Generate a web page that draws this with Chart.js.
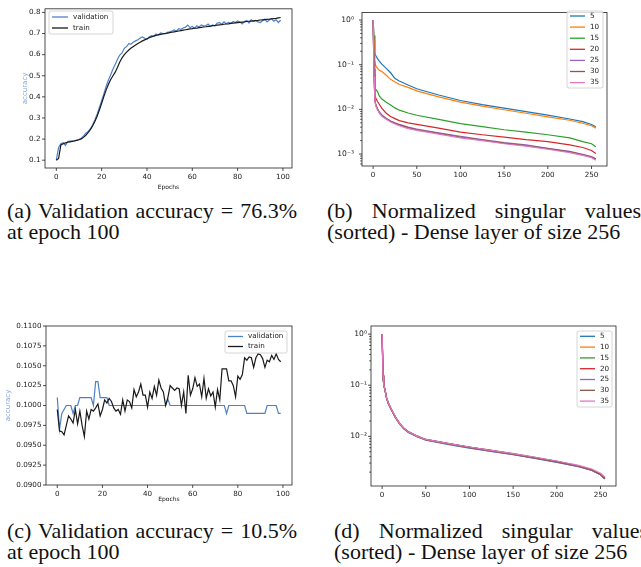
<!DOCTYPE html>
<html lang="en">
<head>
<meta charset="UTF-8">
<title>Accuracy and singular values</title>
<script src="https://cdn.jsdelivr.net/npm/chart.js"></script>
<style>
    body {
        margin: 0;
        width: 641px;
        height: 567px;
        overflow: hidden;
        background: #fff;
        position: relative;
    }
    canvas { position: absolute; }
    .cap {
        position: absolute;
        font-family: 'Liberation Serif', 'Times New Roman', serif;
        font-size: 22px;
        line-height: 22px;
        color: #111;
        white-space: nowrap;
    }
    .just {
        white-space: normal;
        text-align: justify;
        text-align-last: justify;
    }
</style>
</head>
<body>
<canvas id="chartA" width="320" height="195" style="left:0;top:0"></canvas>
<canvas id="chartB" width="321" height="195" style="left:320px;top:0"></canvas>
<canvas id="chartC" width="320" height="190" style="left:0;top:315px"></canvas>
<canvas id="chartD" width="321" height="190" style="left:320px;top:315px"></canvas>

<div class="cap just" style="left:7px;top:200px;width:290px">(a) Validation accuracy = 76.3%</div>
<div class="cap" style="left:7px;top:221px">at epoch 100</div>
<div class="cap just" style="left:327px;top:200px;width:314px">(b) Normalized singular values</div>
<div class="cap" style="left:327px;top:221px">(sorted) - Dense layer of size 256</div>
<div class="cap just" style="left:7px;top:520px;width:290px">(c) Validation accuracy = 10.5%</div>
<div class="cap" style="left:7px;top:541px">at epoch 100</div>
<div class="cap just" style="left:334px;top:520px;width:314px">(d) Normalized singular values</div>
<div class="cap" style="left:334px;top:541px">(sorted) - Dense layer of size 256</div>

<script>
// (a) accuracy per epoch, run that learns
const accValA = [0.100, 0.160, 0.178, 0.183, 0.170, 0.188, 0.190, 0.190, 0.193, 0.195,
    0.198, 0.204, 0.215, 0.228, 0.236, 0.248, 0.268, 0.290, 0.318, 0.350,
    0.382, 0.415, 0.450, 0.480, 0.505, 0.532, 0.555, 0.578, 0.598, 0.608,
    0.630, 0.638, 0.652, 0.650, 0.660, 0.665, 0.670, 0.679, 0.684, 0.678,
    0.672, 0.685, 0.690, 0.687, 0.698, 0.693, 0.703, 0.700, 0.698, 0.706,
    0.708, 0.711, 0.717, 0.711, 0.723, 0.720, 0.726, 0.730, 0.740, 0.728,
    0.733, 0.724, 0.737, 0.731, 0.740, 0.735, 0.738, 0.745, 0.733, 0.741,
    0.736, 0.750, 0.752, 0.744, 0.755, 0.746, 0.753, 0.748, 0.757, 0.752,
    0.760, 0.755, 0.746, 0.757, 0.762, 0.750, 0.765, 0.758, 0.762, 0.755,
    0.752, 0.760, 0.768, 0.755, 0.764, 0.770, 0.758, 0.765, 0.752, 0.763];
const accTrainA = [0.100, 0.108, 0.172, 0.178, 0.182, 0.185, 0.187, 0.189, 0.191, 0.194,
    0.197, 0.201, 0.208, 0.218, 0.230, 0.245, 0.262, 0.283, 0.308, 0.338,
    0.370, 0.403, 0.433, 0.460, 0.482, 0.500, 0.517, 0.540, 0.565, 0.585,
    0.600, 0.612, 0.622, 0.631, 0.639, 0.646, 0.653, 0.659, 0.665, 0.670,
    0.675, 0.680, 0.684, 0.688, 0.691, 0.694, 0.696, 0.698, 0.700, 0.702,
    0.704, 0.706, 0.708, 0.710, 0.712, 0.714, 0.716, 0.718, 0.720, 0.722,
    0.723, 0.725, 0.726, 0.728, 0.729, 0.731, 0.732, 0.734, 0.735, 0.737,
    0.738, 0.740, 0.741, 0.742, 0.744, 0.745, 0.746, 0.748, 0.749, 0.750,
    0.752, 0.753, 0.754, 0.755, 0.757, 0.758, 0.759, 0.760, 0.761, 0.762,
    0.764, 0.765, 0.766, 0.767, 0.768, 0.770, 0.771, 0.772, 0.774, 0.776];

// (c) accuracy per epoch, run that stays at chance
const accValC = [0.1010, 0.0970, 0.0990, 0.0995, 0.1000, 0.1000, 0.1000, 0.0990, 0.1000, 0.1000,
    0.1010, 0.1010, 0.1010, 0.1010, 0.1010, 0.1010, 0.1000, 0.1030, 0.1030, 0.1010,
    0.1010, 0.1010, 0.1010, 0.1000, 0.1000, 0.1000, 0.1000, 0.1000, 0.1000, 0.1000,
    0.1000, 0.1000, 0.1000, 0.1000, 0.1000, 0.1000, 0.1000, 0.1000, 0.1000, 0.1000,
    0.1000, 0.1000, 0.1000, 0.1000, 0.1000, 0.1000, 0.1000, 0.1000, 0.1000, 0.1008,
    0.1000, 0.1000, 0.1000, 0.1000, 0.1000, 0.1000, 0.1000, 0.1000, 0.1000, 0.1000,
    0.1000, 0.1000, 0.1000, 0.1000, 0.1000, 0.1000, 0.1000, 0.1000, 0.1000, 0.1000,
    0.1000, 0.1000, 0.1000, 0.1000, 0.1000, 0.0990, 0.1000, 0.1000, 0.1000, 0.1000,
    0.1000, 0.1000, 0.1000, 0.1000, 0.0990, 0.0990, 0.0990, 0.0990, 0.0990, 0.0990,
    0.0990, 0.0990, 0.0990, 0.1000, 0.1000, 0.1000, 0.1000, 0.1000, 0.0990, 0.0990];
const accTrainC = [0.0995, 0.0968, 0.0967, 0.0963, 0.0975, 0.0987, 0.0983, 0.0978, 0.0995, 0.0977,
    0.0993, 0.0975, 0.0961, 0.0993, 0.0983, 0.0995, 0.0993, 0.0997, 0.1002, 0.0987,
    0.0995, 0.1007, 0.1003, 0.1009, 0.1005, 0.0997, 0.0993, 0.0995, 0.0989, 0.1007,
    0.0993, 0.1007, 0.1005, 0.0997, 0.1020, 0.1011, 0.1017, 0.1027, 0.1013, 0.1013,
    0.0998, 0.1017, 0.1009, 0.1024, 0.1013, 0.1032, 0.1022, 0.1017, 0.1000, 0.1010,
    0.1025, 0.1022, 0.1019, 0.1022, 0.1021, 0.1000, 0.1017, 0.0990, 0.1038, 0.1013,
    0.1021, 0.1035, 0.1024, 0.1027, 0.1011, 0.1034, 0.1009, 0.1021, 0.1012, 0.1017,
    0.0998, 0.1020, 0.1007, 0.1046, 0.1046, 0.1046, 0.1031, 0.1031, 0.1025, 0.1011,
    0.1037, 0.1033, 0.1039, 0.1060, 0.1057, 0.1061, 0.1060, 0.1048, 0.1060, 0.1065,
    0.1064, 0.1059, 0.1048, 0.1057, 0.1055, 0.1063, 0.1058, 0.1065, 0.1058, 0.1055];

const svIndex = [0, 1, 2, 3, 5, 7, 10, 15, 20, 25, 30, 40, 50, 75, 100, 125, 150, 175, 200, 225, 240, 250, 255];
const svLabels = ['5', '10', '15', '20', '25', '30', '35'];
const svColors = ['#1f77b4', '#ff7f0e', '#2ca02c', '#d62728', '#9467bd', '#8c564b', '#e377c2'];

// (b) normalized singular values
const svB5  = [1.0, 0.45, 0.18, 0.16, 0.137, 0.12, 0.103, 0.083, 0.066, 0.049, 0.043, 0.035, 0.029, 0.021, 0.0158, 0.0128, 0.0107, 0.0089, 0.0074, 0.0061, 0.0053, 0.0046, 0.0041];
const svB10 = [1.0, 0.35, 0.11, 0.095, 0.083, 0.075, 0.07, 0.058, 0.047, 0.041, 0.036, 0.031, 0.026, 0.019, 0.0145, 0.0118, 0.0098, 0.0082, 0.0068, 0.0057, 0.0049, 0.0043, 0.0038];
const svB15 = [1.0, 0.12, 0.031, 0.028, 0.025, 0.02, 0.017, 0.0145, 0.0125, 0.0108, 0.0096, 0.0083, 0.0074, 0.006, 0.0048, 0.0041, 0.0035, 0.0031, 0.0027, 0.0023, 0.0019, 0.0017, 0.00145];
const svB20 = [1.0, 0.08, 0.022, 0.018, 0.015, 0.013, 0.0105, 0.0082, 0.0069, 0.0062, 0.0056, 0.005, 0.0046, 0.0038, 0.0031, 0.0027, 0.0024, 0.0021, 0.0019, 0.0016, 0.0014, 0.0012, 0.00103];
const svB25 = [1.0, 0.06, 0.017, 0.013, 0.0105, 0.0088, 0.0075, 0.0063, 0.0055, 0.005, 0.0046, 0.004, 0.0036, 0.003, 0.0025, 0.0021, 0.0018, 0.0016, 0.00135, 0.00115, 0.00098, 0.00088, 0.00078];
const svB30 = [1.0, 0.058, 0.016, 0.0125, 0.0102, 0.0086, 0.0073, 0.0062, 0.0054, 0.0049, 0.0045, 0.0039, 0.0035, 0.0029, 0.0024, 0.00205, 0.00175, 0.00155, 0.00132, 0.00112, 0.00096, 0.00086, 0.00077];
const svB35 = [1.0, 0.055, 0.015, 0.012, 0.0098, 0.0083, 0.007, 0.006, 0.0052, 0.0047, 0.0043, 0.0037, 0.0034, 0.0028, 0.0023, 0.002, 0.0017, 0.0015, 0.00128, 0.00108, 0.00093, 0.00083, 0.00073];

// (d) normalized singular values, all runs on top of each other
const svD5  = [1.0, 0.14, 0.095, 0.084, 0.056, 0.044, 0.034, 0.0235, 0.0173, 0.0139, 0.0119, 0.0098, 0.0084, 0.0070, 0.0059, 0.0051, 0.0044, 0.0037, 0.0031, 0.00255, 0.00215, 0.00177, 0.00147];
const svD10 = [1.0, 0.15, 0.097, 0.086, 0.057, 0.045, 0.035, 0.024, 0.0177, 0.0142, 0.0122, 0.0100, 0.0086, 0.0072, 0.0061, 0.0052, 0.0045, 0.0038, 0.0032, 0.0026, 0.0022, 0.0018, 0.0015];
const svD15 = [1.0, 0.16, 0.099, 0.087, 0.058, 0.046, 0.0355, 0.0244, 0.0180, 0.0144, 0.0124, 0.0102, 0.0087, 0.0073, 0.0062, 0.0053, 0.0046, 0.0039, 0.00325, 0.00265, 0.00224, 0.00183, 0.00152];
const svD20 = [1.0, 0.15, 0.098, 0.086, 0.057, 0.045, 0.035, 0.0242, 0.0178, 0.0143, 0.0123, 0.0101, 0.0087, 0.0073, 0.0061, 0.0053, 0.0045, 0.0038, 0.0032, 0.0026, 0.0022, 0.0018, 0.0015];
const svD25 = [1.0, 0.14, 0.096, 0.085, 0.056, 0.044, 0.0345, 0.0237, 0.0175, 0.0140, 0.0120, 0.0099, 0.0085, 0.0071, 0.0060, 0.0051, 0.00445, 0.00375, 0.00315, 0.00257, 0.00218, 0.00178, 0.00148];
const svD30 = [1.0, 0.15, 0.097, 0.086, 0.057, 0.045, 0.035, 0.0241, 0.0177, 0.0142, 0.0122, 0.0100, 0.0086, 0.0072, 0.0061, 0.0052, 0.0045, 0.0038, 0.0032, 0.0026, 0.0022, 0.0018, 0.0015];
const svD35 = [1.0, 0.155, 0.098, 0.0865, 0.0575, 0.0455, 0.0352, 0.0243, 0.0178, 0.0143, 0.0123, 0.0101, 0.0087, 0.0073, 0.0062, 0.0053, 0.0046, 0.0039, 0.0033, 0.0027, 0.0023, 0.0019, 0.0016];

// tick values
const epochTicks = [0, 20, 40, 60, 80, 100];
const accTicksA = [0.1, 0.2, 0.3, 0.4, 0.5, 0.6, 0.7, 0.8];
const accTicksC = [0.09, 0.0925, 0.095, 0.0975, 0.1, 0.1025, 0.105, 0.1075, 0.11];
const indexTicks = [0, 50, 100, 150, 200, 250];
const decadeTicks = [0.001, 0.01, 0.1, 1];
const decadeText = { '0': '10\u2070', '-1': '10\u207B\u00B9', '-2': '10\u207B\u00B2', '-3': '10\u207B\u00B3' };

Chart.defaults.font.family = "'DejaVu Sans', sans-serif";
Chart.defaults.font.size = 7.2;
Chart.defaults.color = '#222';
Chart.defaults.animation = false;
Chart.defaults.responsive = false;
Chart.defaults.events = [];
Chart.defaults.plugins.legend.display = false;
Chart.defaults.plugins.tooltip.enabled = false;

function pts(xs, ys) {
    return ys.map((y, i) => ({ x: xs[i], y: y }));
}
const epochs = accTrainA.map((_, i) => i);

// box around the plot plus outward tick marks (short minor ones on log axes)
const frame = {
    id: 'frame',
    afterDatasetsDraw(chart) {
        const { ctx, chartArea: a } = chart;
        const xs = chart.scales.x, ys = chart.scales.y;
        ctx.save();
        ctx.strokeStyle = '#222';
        ctx.lineWidth = 0.8;
        ctx.strokeRect(a.left, a.top, a.width, a.height);
        ctx.beginPath();
        xs.ticks.forEach(t => {
            const p = xs.getPixelForValue(t.value);
            ctx.moveTo(p, a.bottom);
            ctx.lineTo(p, a.bottom + 3);
        });
        ys.ticks.forEach(t => {
            const p = ys.getPixelForValue(t.value);
            ctx.moveTo(a.left, p);
            ctx.lineTo(a.left - 3, p);
        });
        if (ys.type === 'logarithmic') {
            for (let e = -4; e <= 0; e++) {
                for (let k = 2; k <= 9; k++) {
                    const v = k * Math.pow(10, e);
                    if (v < ys.min || v > ys.max) continue;
                    const p = ys.getPixelForValue(v);
                    ctx.moveTo(a.left, p);
                    ctx.lineTo(a.left - 1.8, p);
                }
            }
        }
        ctx.stroke();
        ctx.restore();
    }
};

// matplotlib-like legend box drawn inside the axes
const boxLegend = {
    id: 'boxLegend',
    afterDraw(chart, args, o) {
        const ctx = chart.ctx;
        ctx.save();
        ctx.beginPath();
        ctx.roundRect(o.x, o.y, o.w, o.h, 2);
        ctx.fillStyle = 'rgba(255,255,255,0.8)';
        ctx.fill();
        ctx.strokeStyle = '#cccccc';
        ctx.lineWidth = 0.8;
        ctx.stroke();
        ctx.font = "7.2px 'DejaVu Sans'";
        ctx.textBaseline = 'middle';
        chart.data.datasets.forEach((ds, i) => {
            const yy = o.y + o.first + i * o.row;
            ctx.strokeStyle = ds.borderColor;
            ctx.lineWidth = 1.3;
            ctx.beginPath();
            ctx.moveTo(o.x + 3, yy);
            ctx.lineTo(o.x + 3 + o.len, yy);
            ctx.stroke();
            ctx.fillStyle = '#222';
            ctx.fillText(ds.label, o.x + o.len + 8, yy);
        });
        ctx.restore();
    }
};

function fixedTicks(values) {
    return s => { s.ticks = values.map(v => ({ value: v })); };
}

function xAxis(min, max, ticks, height, title, titlePad) {
    return {
        type: 'linear', min: min, max: max,
        afterBuildTicks: fixedTicks(ticks),
        afterFit: s => { s.height = height; },
        grid: { display: false, drawTicks: false },
        border: { display: false },
        ticks: { padding: 5, autoSkip: false, maxRotation: 0 },
        title: {
            display: !!title, text: title, color: '#111',
            font: { size: 6 }, padding: { top: 0, bottom: titlePad }
        }
    };
}

function accAxis(min, max, ticks, width, digits) {
    return {
        type: 'linear', min: min, max: max,
        afterBuildTicks: fixedTicks(ticks),
        afterFit: s => { s.width = width; },
        grid: { display: false, drawTicks: false },
        border: { display: false },
        ticks: { padding: 4.5, autoSkip: false, callback: v => v.toFixed(digits) },
        title: { display: true, text: 'accuracy', color: '#7fa7dc', font: { size: 7 }, padding: 0 }
    };
}

function logAxis(min, max, width, pad) {
    return {
        type: 'logarithmic', min: min, max: max,
        afterBuildTicks: s => {
            s.ticks = decadeTicks.filter(v => v >= min && v <= max).map(v => ({ value: v }));
        },
        afterFit: s => { s.width = width; },
        grid: { display: false, drawTicks: false },
        border: { display: false },
        ticks: {
            padding: pad, autoSkip: false, font: { size: 7.6 },
            callback: v => decadeText[String(Math.round(Math.log10(v)))]
        }
    };
}

function accChart(id, val, train, yScale, xHeight, titlePad, padLeft, legend) {
    return new Chart(document.getElementById(id), {
        type: 'line',
        data: {
            datasets: [
                { label: 'validation', data: pts(epochs, val), borderColor: '#4f81c7', borderWidth: 1.2, pointRadius: 0, order: 2 },
                { label: 'train', data: pts(epochs, train), borderColor: '#1a1a1a', borderWidth: 1.2, pointRadius: 0, order: 1 }
            ]
        },
        options: {
            layout: { padding: { left: padLeft, top: legend.top, right: 28, bottom: 0 } },
            scales: { x: xAxis(-5, 104, epochTicks, xHeight, 'Epochs', titlePad), y: yScale },
            plugins: { boxLegend: legend.box }
        },
        plugins: [frame, boxLegend]
    });
}

function svChart(id, series, yScale, top, right, xHeight, box) {
    return new Chart(document.getElementById(id), {
        type: 'line',
        data: {
            datasets: series.map((s, i) => ({
                label: svLabels[i], data: pts(svIndex, s), borderColor: svColors[i],
                borderWidth: 1.2, pointRadius: 0, order: series.length - i
            }))
        },
        options: {
            layout: { padding: { left: 0, top: top, right: right, bottom: 0 } },
            scales: { x: xAxis(-12.75, 267.75, indexTicks, xHeight, '', 0), y: yScale },
            plugins: { boxLegend: box }
        },
        plugins: [frame, boxLegend]
    });
}

accChart('chartA', accValA, accTrainA, accAxis(0.063, 0.817, accTicksA, 24, 1), 27, 3.5, 21,
    { top: 6, box: { x: 49, y: 11, w: 64, h: 23, first: 6, row: 11, len: 16 } });

svChart('chartB', [svB5, svB10, svB15, svB20, svB25, svB30, svB35], logAxis(0.00054, 1.47, 42, 8), 7, 34, 29,
    { x: 247, y: 11, w: 36, h: 77, first: 5, row: 11.1, len: 15 });

accChart('chartC', accValC, accTrainC, accAxis(0.09, 0.11, accTicksC, 42, 4), 20, 1.5, 4,
    { top: 11, box: { x: 225, y: 16, w: 62, h: 22, first: 5.5, row: 10, len: 15 } });

svChart('chartD', [svD5, svD10, svD15, svD20, svD25, svD30, svD35], logAxis(0.00107, 1.44, 51, 4), 11, 25, 19,
    { x: 257, y: 16, w: 35, h: 76, first: 5.3, row: 10.8, len: 15 });
</script>
</body>
</html>
